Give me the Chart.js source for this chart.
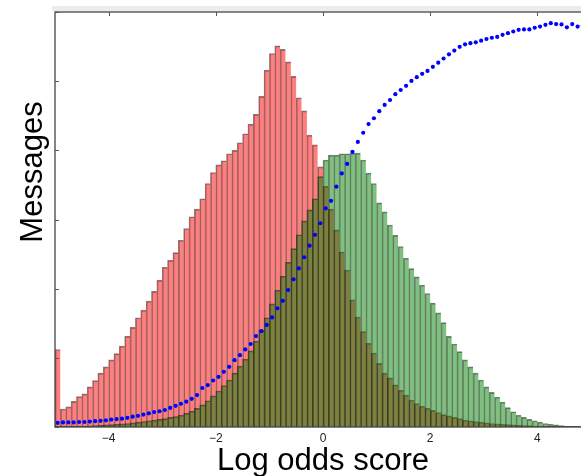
<!DOCTYPE html>
<html><head><meta charset="utf-8">
<script src="https://cdn.jsdelivr.net/npm/chart.js@4"></script>
<style>
html,body{margin:0;padding:0;background:#fff;}
#wrap{width:581px;height:476px;overflow:hidden;position:relative;}
canvas{display:block;}
</style></head><body>
<div id="wrap"><canvas id="c" width="600" height="490"></canvas></div>
<script>
// ---- data ----
const binStart = -5.0;
const binWidth = 0.1;
const binCount = 100;

const xTickValues = [-4, -2, 0, 2, 4];
const xTickLabels = ['\u22124', '\u22122', '0', '2', '4'];
const yTickValues = [0, 1, 2, 3, 4, 5, 6];

const xTitle = 'Log odds score';
const yTitle = 'Messages';

// red histogram (per 0.1 bin, from -5 to 5)
const redCounts = [
  1.12, 0.26, 0.29, 0.37, 0.44, 0.48, 0.58, 0.67, 0.78, 0.87,
  0.97, 1.06, 1.17, 1.31, 1.44, 1.58, 1.69, 1.82, 1.96, 2.12,
  2.31, 2.41, 2.52, 2.70, 2.87, 3.04, 3.15, 3.30, 3.52, 3.68,
  3.79, 3.85, 3.95, 4.00, 4.11, 4.24, 4.38, 4.52, 4.78, 5.16,
  5.40, 5.51, 5.46, 5.28, 5.07, 4.76, 4.57, 4.22, 4.08, 3.76,
  3.48, 3.15, 2.85, 2.53, 2.27, 1.84, 1.59, 1.38, 1.21, 1.07,
  0.92, 0.78, 0.71, 0.61, 0.53, 0.46, 0.39, 0.34, 0.30, 0.27,
  0.24, 0.21, 0.18, 0.16, 0.14, 0.12, 0.10, 0.09, 0.08, 0.07,
  0.06, 0.05, 0.045, 0.04, 0.035, 0.03, 0.025, 0.02, 0.02, 0.015,
  0.015, 0.01, 0.01, 0.01, 0.008, 0.006, 0.005, 0.004, 0.003, 0.002
];

// green histogram
const greenCounts = [
  0.005, 0.008, 0.01, 0.01, 0.012, 0.015, 0.018, 0.02, 0.025, 0.03,
  0.035, 0.04, 0.045, 0.05, 0.06, 0.07, 0.08, 0.09, 0.10, 0.11,
  0.12, 0.14, 0.15, 0.17, 0.20, 0.23, 0.27, 0.32, 0.38, 0.45,
  0.52, 0.60, 0.68, 0.78, 0.88, 0.98, 1.10, 1.24, 1.40, 1.58,
  1.78, 1.98, 2.18, 2.38, 2.58, 2.78, 2.98, 3.14, 3.30, 3.62,
  3.86, 3.93, 3.93, 3.95, 3.95, 3.96, 3.96, 3.86, 3.67, 3.52,
  3.24, 3.11, 2.92, 2.77, 2.61, 2.44, 2.29, 2.17, 2.05, 1.93,
  1.79, 1.65, 1.51, 1.31, 1.20, 1.09, 0.97, 0.87, 0.78, 0.68,
  0.58, 0.50, 0.43, 0.36, 0.28, 0.22, 0.17, 0.14, 0.11, 0.09,
  0.07, 0.05, 0.04, 0.03, 0.02, 0.015, 0.01, 0.01, 0.005, 0.005
];

// blue dotted fraction (0..1, on its own scale)
const blueFraction = [
  0.010, 0.011, 0.011, 0.011, 0.012, 0.012, 0.013, 0.014, 0.015, 0.016,
  0.018, 0.019, 0.020, 0.022, 0.025, 0.027, 0.030, 0.033, 0.036, 0.038,
  0.041, 0.046, 0.051, 0.056, 0.061, 0.068, 0.077, 0.094, 0.101, 0.112,
  0.121, 0.133, 0.145, 0.161, 0.173, 0.187, 0.200, 0.219, 0.231, 0.246,
  0.264, 0.286, 0.304, 0.330, 0.356, 0.382, 0.409, 0.437, 0.463, 0.491,
  0.527, 0.545, 0.579, 0.611, 0.634, 0.663, 0.687, 0.709, 0.730, 0.744,
  0.761, 0.776, 0.788, 0.802, 0.812, 0.822, 0.834, 0.843, 0.851, 0.858,
  0.868, 0.878, 0.888, 0.898, 0.907, 0.916, 0.922, 0.925, 0.927, 0.931,
  0.935, 0.938, 0.940, 0.945, 0.949, 0.953, 0.957, 0.958, 0.958, 0.962,
  0.965, 0.969, 0.973, 0.971, 0.970, 0.963, 0.971, 0.965, 0.968, 0.962
];

const binCenters = Array.from({length: binCount}, (_, i) => +(binStart + binWidth * (i + 0.5)).toFixed(3));
const pairs = arr => binCenters.map((x, i) => ({x: x, y: arr[i]}));

const FONT = '"Liberation Sans", Arial, Helvetica, sans-serif';

const framePlugin = {
  id: 'frame',
  beforeDraw(chart) {
    const {ctx, chartArea: a} = chart;
    ctx.save();
    ctx.fillStyle = '#ececec';
    ctx.fillRect(a.left - 3, a.top - 6, chart.width, 5);
    ctx.restore();
  },
  afterDatasetsDraw(chart) {
    const {ctx, chartArea: a, scales} = chart;
    ctx.save();
    ctx.strokeStyle = '#444';
    ctx.lineWidth = 1.3;
    ctx.strokeRect(a.left, a.top, a.right - a.left, a.bottom - a.top);
    ctx.lineWidth = 1;
    ctx.strokeStyle = '#555';
    xTickValues.forEach(v => {
      const px = Math.round(scales.x.getPixelForValue(v)) + 0.5;
      ctx.beginPath(); ctx.moveTo(px, a.top); ctx.lineTo(px, a.top + 4); ctx.stroke();
    });
    yTickValues.forEach(v => {
      const py = Math.round(scales.y.getPixelForValue(v)) + 0.5;
      ctx.beginPath(); ctx.moveTo(a.left, py); ctx.lineTo(a.left + 4, py); ctx.stroke();
    });
    ctx.fillStyle = '#000';
    ctx.font = '31px ' + FONT;
    ctx.translate(42, 172);
    ctx.rotate(-Math.PI / 2);
    ctx.textAlign = 'center';
    ctx.textBaseline = 'alphabetic';
    ctx.fillText(yTitle, 0, 0);
    ctx.restore();
  }
};

const barCommon = {
  borderColor: 'rgba(0,0,0,0.5)',
  borderWidth: {top: 1, left: 1, right: 0, bottom: 0},
  borderSkipped: false,
  grouped: false,
  barPercentage: 1,
  categoryPercentage: 1
};

new Chart(document.getElementById('c'), {
  type: 'bar',
  data: {
    datasets: [
      {
        type: 'line', label: 'fraction', data: pairs(blueFraction), yAxisID: 'y2',
        showLine: false, pointRadius: 2.1, pointBackgroundColor: '#0000ff',
        pointBorderWidth: 0, pointBorderColor: '#0000ff', order: 0
      },
      Object.assign({label: 'green', data: pairs(greenCounts), backgroundColor: 'rgba(0,128,0,0.5)', order: 1}, barCommon),
      Object.assign({label: 'red', data: pairs(redCounts), backgroundColor: 'rgba(255,0,0,0.5)', order: 2}, barCommon)
    ]
  },
  options: {
    responsive: false,
    animation: false,
    devicePixelRatio: 1,
    layout: {padding: {left: 0, top: 12, right: 9, bottom: 0}},
    plugins: {legend: {display: false}, tooltip: {enabled: false}},
    scales: {
      x: {
        type: 'linear', min: -5, max: 5, offset: false,
        grid: {display: false, drawTicks: false},
        border: {display: false},
        afterBuildTicks: s => { s.ticks = xTickValues.map(v => ({value: v})); },
        ticks: {
          padding: 4, color: '#222', autoSkip: false, maxRotation: 0,
          font: {size: 12, family: FONT},
          callback: v => xTickLabels[xTickValues.indexOf(v)]
        },
        title: {display: true, text: xTitle, color: '#000', font: {size: 31, family: FONT}, padding: {top: 0, bottom: 10}},
        afterFit: s => { s.height = 63; }
      },
      y: {
        min: 0, max: 6,
        grid: {display: false, drawTicks: false},
        border: {display: false},
        ticks: {display: false},
        afterFit: s => { s.width = 55; }
      },
      y2: {display: false, min: 0, max: 1, position: 'right'}
    }
  },
  plugins: [framePlugin]
});
</script>
</body></html>
